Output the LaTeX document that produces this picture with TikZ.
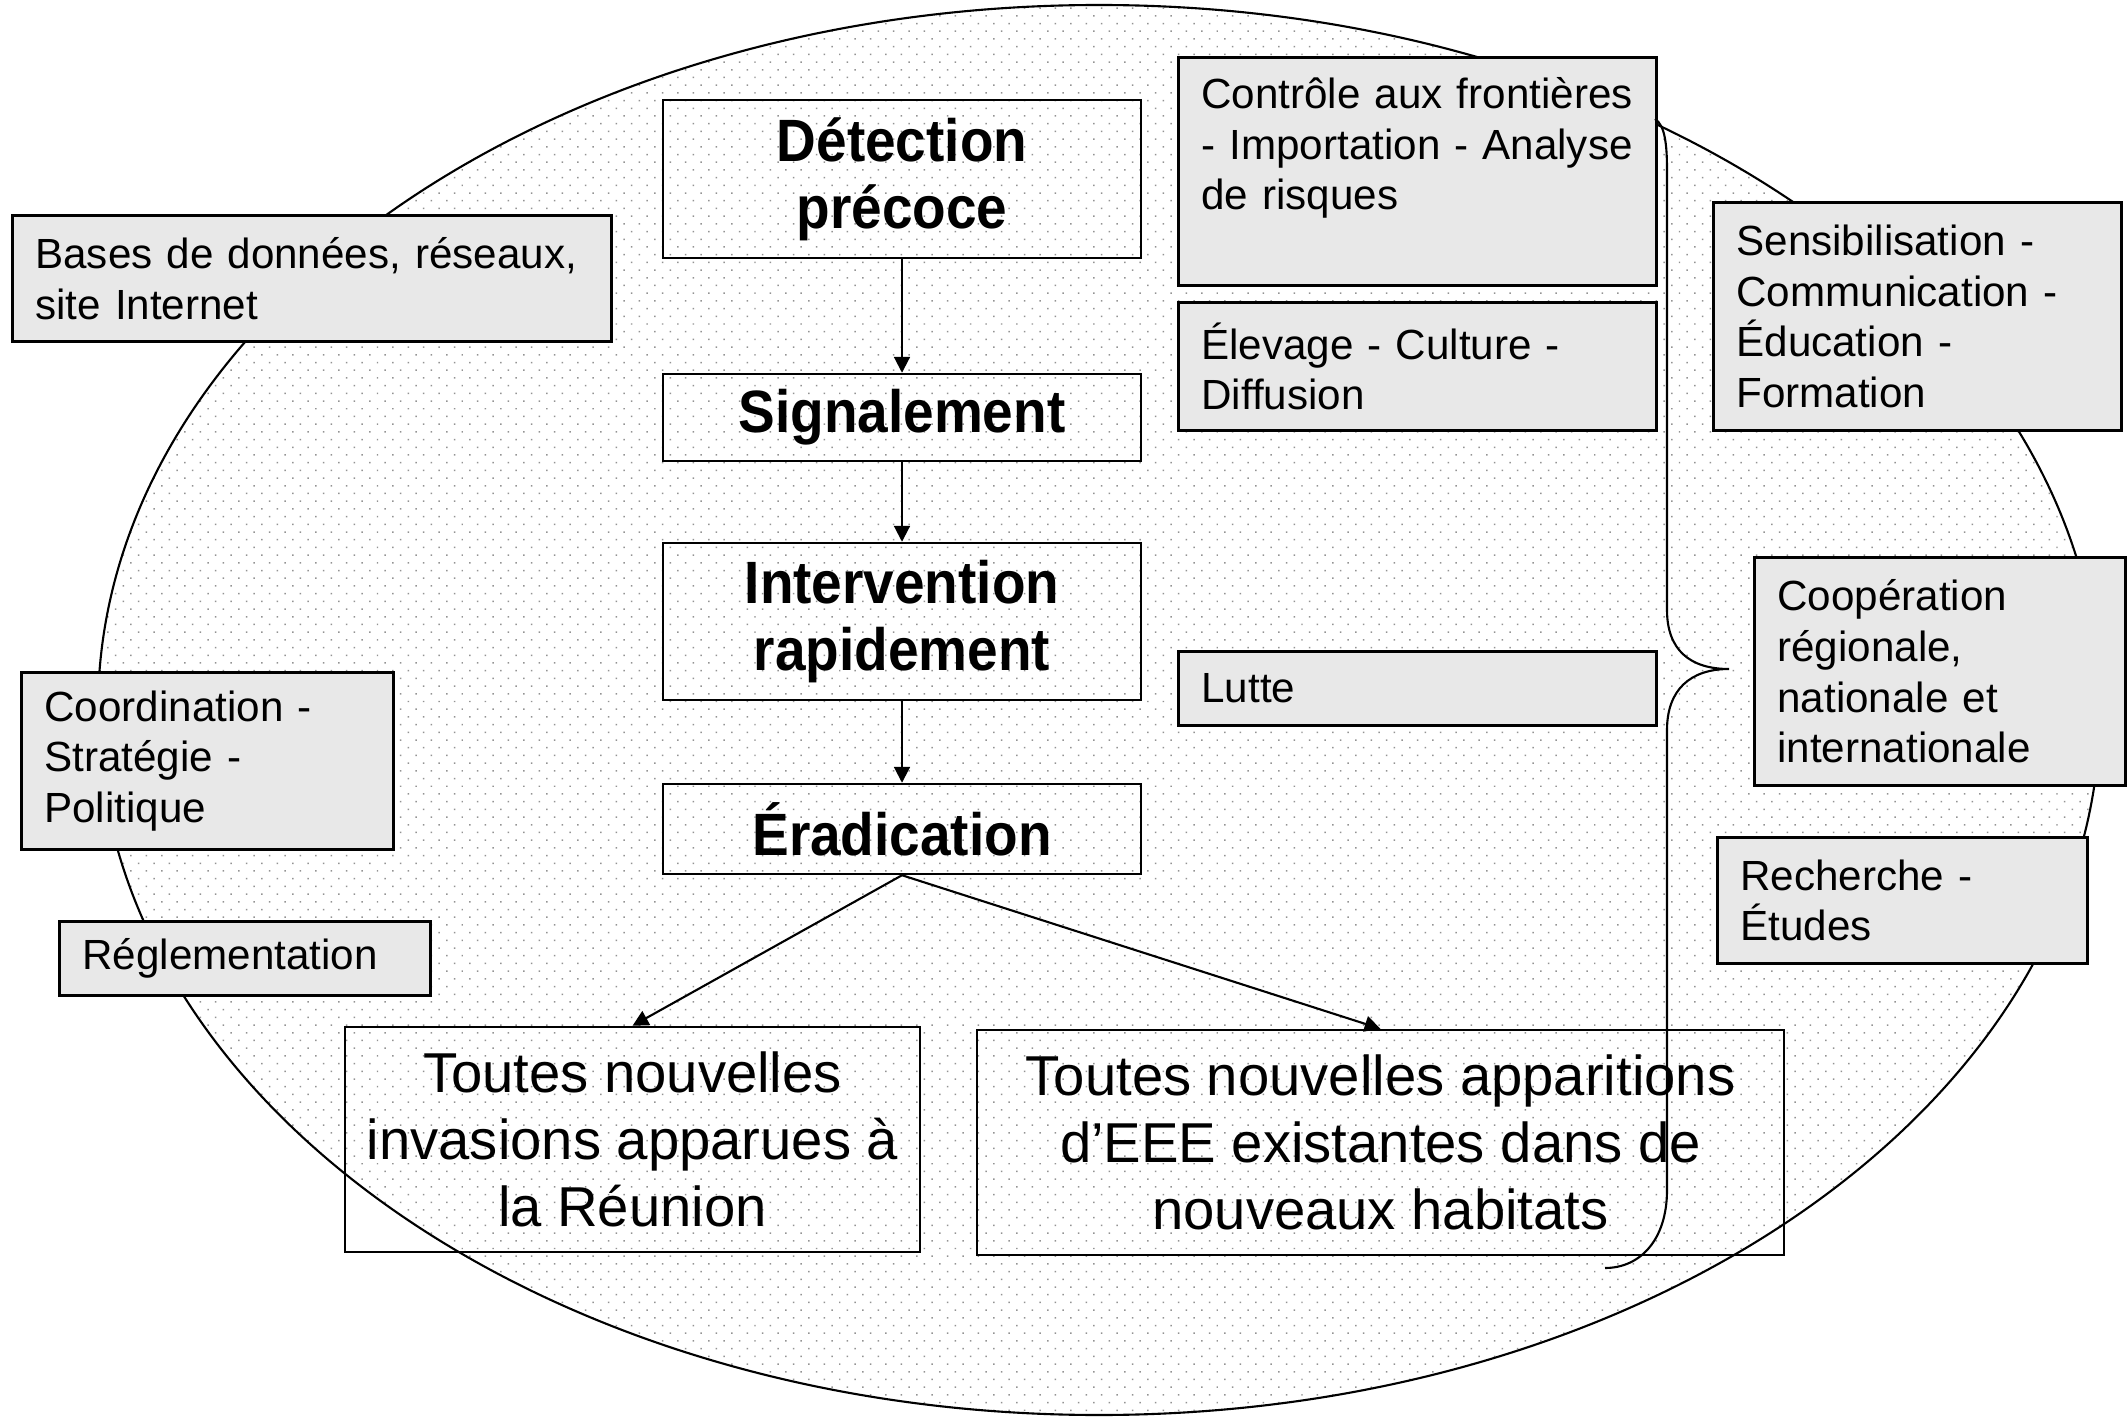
\documentclass[tikz,border=0pt]{standalone}
\usepackage{fontspec}
\setmainfont{Liberation Sans}
\newfontfamily\stagefont[FakeStretch=0.92]{Liberation Sans}
\usetikzlibrary{arrows.meta,patterns.meta}
\definecolor{boxgray}{HTML}{E8E8E8}

\begin{document}
\begin{tikzpicture}[
  etape/.style={draw,line width=0.7pt,minimum width=4.78cm,align=center,
    font=\stagefont\bfseries\fontsize{17}{19}\selectfont},
  cas/.style={draw,line width=0.7pt,align=center,font=\fontsize{16}{19}\selectfont},
  action/.style={draw,line width=0.8pt,fill=boxgray,anchor=north west,
    inner xsep=0.23cm,inner ysep=0.1cm,align=left,font=\fontsize{12}{14.4}\selectfont},
  fleche/.style={line width=0.6pt,-{Triangle[length=4.5pt,width=4.5pt]}}]
          \useasboundingbox (0,0) rectangle (21.27,-14.18);
          %fond pointille
          \draw[line width=0.6pt,pattern={Dots[distance=3.1pt,angle=45,radius=0.3pt]},pattern color=gray!85]
            (10.99,-7.10) ellipse (10.01cm and 7.05cm);

          %etapes
          \node[etape,minimum height=1.58cm] (det) at (9.02,-1.79) {Détection\\précoce};
          \node[etape,minimum height=0.87cm] (sig) at (9.02,-4.175) {Signalement};
          \node[etape,minimum height=1.57cm] (int) at (9.02,-6.215) {Intervention\\rapidement};
          \node[etape,minimum height=0.90cm] (era) at (9.02,-8.29) {Éradication};
          \node[cas,minimum width=5.75cm,minimum height=2.25cm] (inv) at (6.325,-11.395)
            {Toutes nouvelles\\invasions apparues à\\la Réunion};
          \node[cas,minimum width=8.07cm,minimum height=2.25cm] (app) at (13.805,-11.425)
            {Toutes nouvelles apparitions\\d’EEE existantes dans de\\nouveaux habitats};

          \draw[fleche] (det) -- (sig);
          \draw[fleche] (sig) -- (int);
          \draw[fleche] (int) -- (era);
          \draw[fleche] (era.south) -- (inv.north);
          \draw[fleche] (era.south) -- (app.north);

          %actions
          \node[action,text width=5.53cm,minimum height=1.26cm] (bases) at (0.11,-2.14)
            {Bases de données, réseaux,\\site Internet};
          \node[action,text width=3.26cm,minimum height=1.77cm] (coord) at (0.20,-6.71)
            {Coordination -\\Stratégie -\\Politique};
          \node[action,text width=3.25cm,minimum height=0.74cm] (regl) at (0.58,-9.20)
            {Réglementation};
          \node[action,text width=4.32cm,inner ysep=0.2cm,text depth=1.57cm] (ctrl) at (11.77,-0.56)
            {Contrôle aux frontières\\- Importation - Analyse\\de risques};
          \node[action,text width=4.32cm,minimum height=1.28cm] (elev) at (11.77,-3.01)
            {Élevage - Culture -\\Diffusion};
          \node[action,text width=4.32cm,minimum height=0.74cm] (lutte) at (11.77,-6.50)
            {Lutte};
          \node[action,text width=3.62cm,minimum height=2.28cm] (sens) at (17.12,-2.01)
            {Sensibilisation -\\Communication -\\Éducation -\\Formation};
          \node[action,text width=3.25cm,minimum height=2.28cm] (coop) at (17.53,-5.56)
            {Coopération\\régionale,\\nationale et\\internationale};
          \node[action,text width=3.24cm,minimum height=1.26cm] (rech) at (17.16,-8.36)
            {Recherche -\\Études};

          %accolade
          \coordinate (A_h) at (16.55,-1.19);
          \coordinate (A_p) at (17.29,-6.69);
          \coordinate (A_b) at (16.05,-12.68);
          \draw[line width=0.6pt] (A_h) .. controls (16.65,-1.25) and (16.67,-1.45) .. (16.67,-1.70)
            -- (16.67,-6.10) .. controls (16.67,-6.50) and (16.90,-6.69) .. (A_p)
            .. controls (16.90,-6.69) and (16.67,-6.90) .. (16.67,-7.30)
            -- (16.67,-11.90) .. controls (16.67,-12.40) and (16.40,-12.68) .. (A_b);
\end{tikzpicture}
\end{document}
